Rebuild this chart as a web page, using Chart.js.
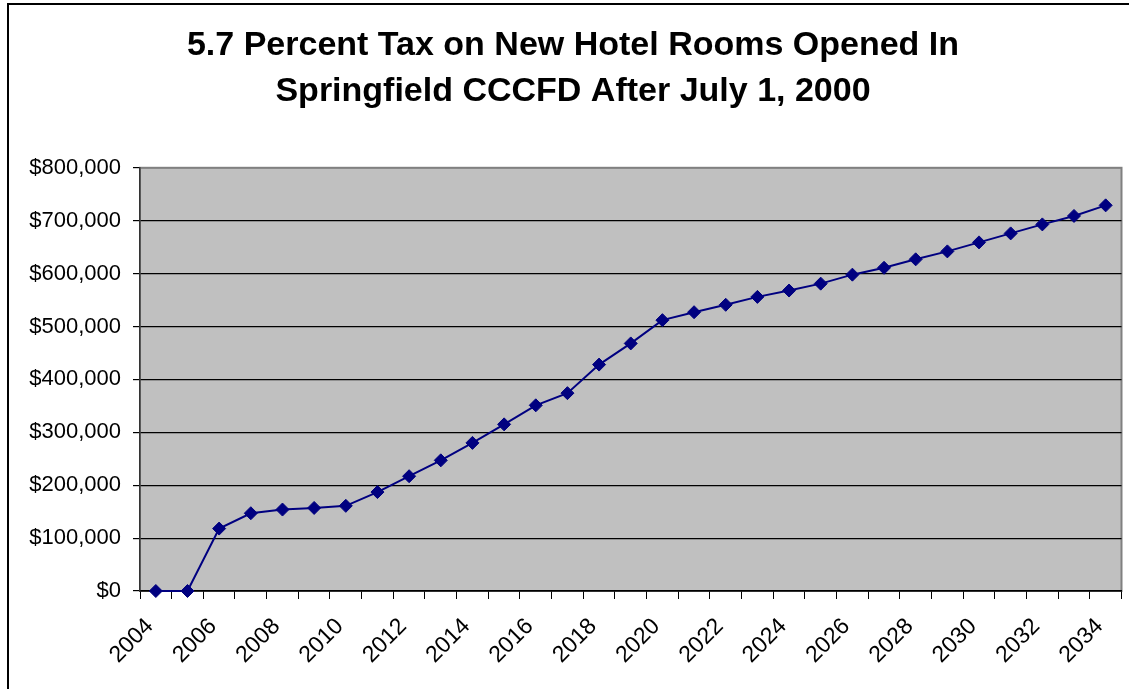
<!DOCTYPE html>
<html>
<head>
<meta charset="utf-8">
<title>5.7 Percent Tax on New Hotel Rooms</title>
<script src="https://cdn.jsdelivr.net/npm/chart.js@4/dist/chart.umd.min.js"></script>
<style>
    html, body { margin: 0; padding: 0; background: #fff; }
    #wrap { width: 1129px; height: 689px; }
</style>
</head>
<body>
<div id="wrap"><canvas id="chart"></canvas></div>
<script>
    "use strict";

    var YEARS = ["2004", "2005", "2006", "2007", "2008", "2009", "2010", "2011",
        "2012", "2013", "2014", "2015", "2016", "2017", "2018", "2019", "2020",
        "2021", "2022", "2023", "2024", "2025", "2026", "2027", "2028", "2029",
        "2030", "2031", "2032", "2033", "2034"];
    var TAX = [0, 0, 118000, 147000, 154000, 157000, 161000, 187000,
        217000, 247000, 280000, 315000, 351000, 374000, 428000, 468000, 512000,
        527000, 541000, 556000, 568000, 581000, 598000, 611000, 627000, 642000,
        659000, 676000, 693000, 709000, 729000];
    var TITLE_LINES = ["5.7 Percent Tax on New Hotel Rooms Opened In",
        "Springfield CCCFD After July 1, 2000"];

    var LINE_COLOR = "#000080";
    var PLOT_FILL = "#c0c0c0";
    var PLOT_EDGE = "#808080";
    var FONT = "'Liberation Sans', Arial, Helvetica, sans-serif";

    // white page, outer frame and grey plot area under the grid
    var backdrop = {
        id: "backdrop",
        beforeDraw: function(chart) {
            var ctx = chart.ctx;
            var a = chart.chartArea;
            ctx.save();
            ctx.fillStyle = "#fff";
            ctx.fillRect(0, 0, chart.width, chart.height);
            ctx.strokeStyle = "#000";
            ctx.lineWidth = 2;
            ctx.strokeRect(8, 4, chart.width + 20, chart.height + 20);
            ctx.fillStyle = PLOT_FILL;
            ctx.fillRect(a.left, a.top, a.right - a.left, a.bottom - a.top);
            ctx.strokeStyle = PLOT_EDGE;
            ctx.lineWidth = 2;
            ctx.strokeRect(a.left, a.top, a.right - a.left, a.bottom - a.top);
            ctx.restore();
        }
    };

    Chart.defaults.font.family = FONT;
    Chart.defaults.color = "#000";

    new Chart(document.getElementById("chart"), {
        type: "line",
        data: {
            labels: YEARS,
            datasets: [{
                data: TAX,
                borderColor: LINE_COLOR,
                backgroundColor: LINE_COLOR,
                borderWidth: 2,
                pointStyle: "rectRot",
                pointRadius: 6.5,
                pointHoverRadius: 6.5,
                pointBorderWidth: 1,
                tension: 0,
                clip: false
            }]
        },
        options: {
            responsive: true,
            maintainAspectRatio: false,
            animation: false,
            layout: {
                padding: { left: 24, right: 7, top: 0, bottom: 0 }
            },
            plugins: {
                legend: { display: false },
                tooltip: { enabled: false },
                title: {
                    display: true,
                    text: TITLE_LINES,
                    color: "#000",
                    font: { size: 34, weight: "bold", lineHeight: 1.35 },
                    padding: { top: 23, bottom: 53 }
                }
            },
            scales: {
                x: {
                    offset: true,
                    afterFit: function(scale) {
                        scale.height = 98;
                        scale.paddingLeft = 0;
                        scale.paddingRight = 0;
                    },
                    grid: {
                        offset: true,
                        drawOnChartArea: false,
                        drawTicks: true,
                        tickLength: 8,
                        tickColor: "#000"
                    },
                    border: { color: "#000", width: 1.5 },
                    ticks: {
                        autoSkip: false,
                        maxRotation: 45,
                        minRotation: 45,
                        padding: 14,
                        labelOffset: -6,
                        font: { size: 23 },
                        callback: function(value, index) {
                            return index % 2 === 0 ? this.getLabelForValue(value) : "";
                        }
                    }
                },
                y: {
                    min: 0,
                    max: 800000,
                    afterFit: function(scale) { scale.width = 116; },
                    grid: {
                        color: function(c) {
                            return c.tick && c.tick.value === 800000 ? PLOT_EDGE : "#000";
                        },
                        lineWidth: 1.2,
                        tickLength: 7,
                        tickColor: "#000"
                    },
                    border: { color: "#333", width: 1.5 },
                    ticks: {
                        stepSize: 100000,
                        padding: 12,
                        font: { size: 22 },
                        callback: function(v) {
                            return "$" + v.toLocaleString("en-US");
                        }
                    }
                }
            }
        },
        plugins: [backdrop]
    });
</script>
</body>
</html>
